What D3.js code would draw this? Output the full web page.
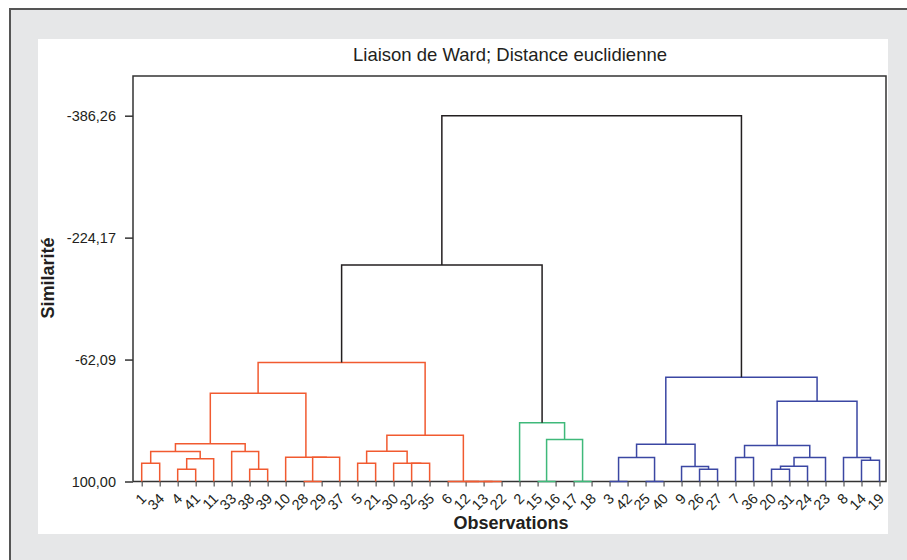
<!DOCTYPE html>
<html>
<head>
<meta charset="utf-8">
<script src="https://cdn.jsdelivr.net/npm/d3@7"></script>
<style>
  body { margin: 0; background: #fff; }
  svg { display: block; font-family: "Liberation Sans", Arial, sans-serif; }
</style>
</head>
<body>
<svg id="chart" width="907" height="560"></svg>
<script>
// leaf order along the x axis
var leaves = [1, 34, 4, 41, 11, 33, 38, 39, 10, 28, 29, 37, 5, 21, 30, 32, 35, 6, 12, 13, 22,
              2, 15, 16, 17, 18,
              3, 42, 25, 40, 9, 26, 27, 7, 36, 20, 31, 24, 23, 8, 14, 19];

// merges: [left, right, similarity]; numbers = observations, "mN" = earlier merge
var merges = [
  [28, 29, 100], [13, 22, 100], [12, "m1", 100], [6, "m2", 100],
  [4, 41, 83.7], [38, 39, 83.7], [1, 34, 75.7], [5, 21, 75.7],
  [32, 35, 75.7], [30, "m8", 75.6], ["m4", 11, 69.8], ["m0", 37, 67.7],
  [10, "m11", 67.6], ["m6", "m10", 60.1], [33, "m5", 60.1], ["m7", "m9", 59.7],
  ["m13", "m14", 49.9], ["m15", "m3", 38.5], ["m16", "m12", -17.3], ["m18", "m17", -58.1],
  [15, 16, 100], [17, 18, 100], ["m20", "m21", 44.2], [2, "m22", 22.0],
  [3, 42, 100], [25, 40, 100], [26, 27, 83.7], [20, 31, 83.7],
  ["m27", 24, 79.7], [9, "m26", 80.1], [14, 19, 71.7], ["m24", "m25", 68.1],
  [7, 36, 68.1], ["m28", 23, 68.1], [8, "m30", 68.1], ["m31", "m29", 50.4],
  ["m32", "m33", 52.2], ["m36", "m34", -6.7], ["m35", "m37", -38.6],
  ["m19", "m23", -187.8], ["m39", "m38", -386.26]
];

var clusterLeaves = [
  [1, 34, 4, 41, 11, 33, 38, 39, 10, 28, 29, 37, 5, 21, 30, 32, 35, 6, 12, 13, 22],
  [2, 15, 16, 17, 18],
  [3, 42, 25, 40, 9, 26, 27, 7, 36, 20, 31, 24, 23, 8, 14, 19]
];
var clusterColors = ["#f15a30", "#3fb97a", "#3b47a3"];

var yTicks = [100, -62.09, -224.17, -386.26];

var svg = d3.select("#chart");

// frame
svg.append("rect").attr("x", 10).attr("y", 9).attr("width", 920).attr("height", 580)
  .attr("fill", "#e6e7e8").attr("stroke", "#555").attr("stroke-width", 2);
svg.append("rect").attr("x", 38).attr("y", 39).attr("width", 850).attr("height", 495)
  .attr("fill", "#fff");

var boxL = 133, boxR = 886, boxT = 76, boxB = 481.5;

var x = d3.scalePoint().domain(leaves).range([141.7, 879.5]);
var y = d3.scaleLinear().domain([100, -386.26]).range([boxB, 115.7]);

// build tree
var built = {};
function resolve(c) {
  return typeof c === "number" ? { name: c, sim: 100 } : built[c];
}
merges.forEach(function(m, i) {
  built["m" + i] = { name: "m" + i, sim: m[2], children: [resolve(m[0]), resolve(m[1])] };
});
var root = d3.hierarchy(built["m" + (merges.length - 1)]);
root.eachAfter(function(d) {
  if (!d.children) d.px = x(d.data.name);
  else d.px = d3.mean(d.children, function(c) { return c.px; });
});

function colorOf(d) {
  var names = d.leaves().map(function(l) { return l.data.name; });
  for (var k = 0; k < clusterLeaves.length; k++) {
    if (names.every(function(n) { return clusterLeaves[k].indexOf(n) >= 0; })) return clusterColors[k];
  }
  return "#231f20";
}

// box
svg.append("path")
  .attr("d", "M" + boxL + "," + boxB + "V" + boxT + "H" + boxR + "V" + boxB + "H" + boxL)
  .attr("fill", "none").attr("stroke", "#333").attr("stroke-width", 1.5);

// y axis
var yAxis = svg.append("g").attr("transform", "translate(" + boxL + ",0)")
  .call(d3.axisLeft(y).tickValues(yTicks).tickSize(8).tickPadding(9)
    .tickFormat(function(d) { return d.toFixed(2).replace(".", ","); }));
yAxis.select(".domain").remove();
yAxis.selectAll("line").attr("stroke", "#333").attr("stroke-width", 1.5);
yAxis.selectAll("text").attr("font-size", 14.5).attr("fill", "#231f20")
  .attr("font-family", "Liberation Sans, Arial, sans-serif");

// x axis
var xAxis = svg.append("g").attr("transform", "translate(0," + boxB + ")")
  .call(d3.axisBottom(x).tickSize(5));
xAxis.select(".domain").remove();
xAxis.selectAll("line").attr("stroke", "#555").attr("stroke-width", 1.2);
xAxis.selectAll("text")
  .attr("y", 0).attr("dy", 0).attr("x", 0)
  .attr("text-anchor", "end")
  .attr("transform", "translate(5,18) rotate(-45)")
  .attr("font-size", 14.5).attr("fill", "#231f20")
  .attr("font-family", "Liberation Sans, Arial, sans-serif");

// dendrogram links
svg.append("g").selectAll("path")
  .data(root.descendants().filter(function(d) { return d.children; }).reverse())
  .join("path")
  .attr("d", function(d) {
    var a = d.children[0], b = d.children[1];
    return "M" + a.px + "," + y(a.data.sim) + "V" + y(d.data.sim) +
           "H" + b.px + "V" + y(b.data.sim);
  })
  .attr("fill", "none")
  .attr("stroke", colorOf)
  .attr("stroke-width", 1.5);

// title and labels
svg.append("text").attr("x", 510).attr("y", 61).attr("text-anchor", "middle")
  .attr("font-size", 18.5).attr("fill", "#231f20")
  .text("Liaison de Ward; Distance euclidienne");
svg.append("text").attr("x", 511).attr("y", 529).attr("text-anchor", "middle")
  .attr("font-size", 18).attr("font-weight", "bold").attr("fill", "#231f20")
  .text("Observations");
svg.append("text").attr("transform", "translate(54,278) rotate(-90)").attr("text-anchor", "middle")
  .attr("font-size", 18).attr("font-weight", "bold").attr("fill", "#231f20")
  .text("Similarité");
</script>
</body>
</html>
